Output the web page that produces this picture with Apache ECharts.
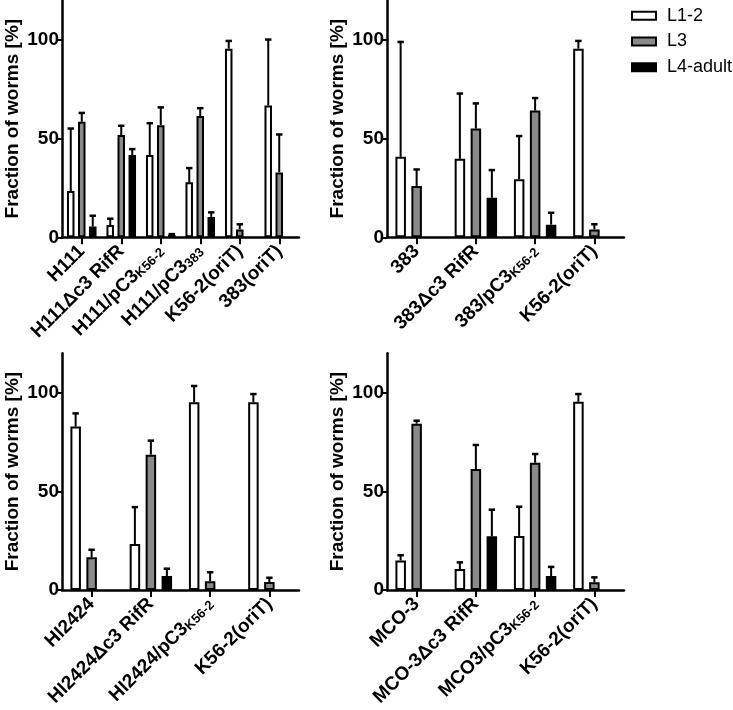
<!DOCTYPE html>
<html><head><meta charset="utf-8">
<script src="https://cdn.jsdelivr.net/npm/echarts@6/dist/echarts.min.js"></script>
<style>html,body{margin:0;padding:0;background:#fff}#c{width:733px;height:710px}</style>
</head><body><div id="c"></div>
<script>
const seriesNames = ['L1-2', 'L3', 'L4-adult'];
const yTicks = [0, 50, 100];

// Panel 1 (top left)
const cats1 = ['H111', 'H111Δc3 RifR', 'H111/pC3_K56-2', 'H111/pC3_383', 'K56-2(oriT)', '383(oriT)'];
const l12_1 = [23.4, 6.2, 41.6, 27.8, 95.4, 66.7];
const l12e_1 = [31.6, 3.2, 16.1, 7.2, 3.9, 33.3];
const l3_1 = [58.4, 51.7, 56.7, 61.3, 4.0, 32.8];
const l3e_1 = [4.5, 4.7, 9.0, 4.0, 2.6, 19.2];
const l4_1 = [5.4, 41.6, 1.2, 10.3, null, null];
const l4e_1 = [5.5, 3.0, 0.4, 2.3, null, null];

// Panel 2 (top right)
const cats2 = ['383', '383Δc3 RifR', '383/pC3_K56-2', 'K56-2(oriT)'];
const l12_2 = [40.7, 39.7, 29.3, 95.4];
const l12e_2 = [58.1, 33.0, 21.9, 3.9];
const l3_2 = [26.0, 55.0, 64.1, 4.0];
const l3e_2 = [8.3, 12.7, 6.3, 2.6];
const l4_2 = [null, 20.0, 6.4, null];
const l4e_2 = [null, 14.0, 6.0, null];

// Panel 3 (bottom left)
const cats3 = ['HI2424', 'HI2424Δc3 RifR', 'HI2424/pC3_K56-2', 'K56-2(oriT)'];
const l12_3 = [82.8, 23.3, 95.1, 95.1];
const l12e_3 = [6.7, 18.7, 8.3, 4.2];
const l3_3 = [16.6, 68.6, 4.4, 4.0];
const l3e_3 = [3.8, 7.1, 4.6, 2.2];
const l4_3 = [null, 7.1, null, null];
const l4e_3 = [null, 3.7, null, null];

// Panel 4 (bottom right)
const cats4 = ['MCO-3', 'MCO-3Δc3 RifR', 'MCO3/pC3_K56-2', 'K56-2(oriT)'];
const l12_4 = [15.0, 10.6, 27.4, 95.4];
const l12e_4 = [2.6, 3.4, 14.8, 3.9];
const l3_4 = [84.3, 61.3, 64.5, 3.9];
const l3e_4 = [1.5, 12.2, 4.4, 2.5];
const l4_4 = [null, 27.2, 7.1, null];
const l4e_4 = [null, 13.5, 4.6, null];

const FONT = 'Liberation Sans, Arial, sans-serif';
const colors = ['#ffffff', '#8a8a8a', '#000000'];

const panels = [
  {cats: cats1, vals: [l12_1, l3_1, l4_1], errs: [l12e_1, l3e_1, l4e_1], grid: {left: 62, top: 0, width: 237, height: 237.3}, bw: 7.5, pitch: 11},
  {cats: cats2, vals: [l12_2, l3_2, l4_2], errs: [l12e_2, l3e_2, l4e_2], grid: {left: 387, top: 0, width: 237, height: 237.3}, bw: 10.5, pitch: 16},
  {cats: cats3, vals: [l12_3, l3_3, l4_3], errs: [l12e_3, l3e_3, l4e_3], grid: {left: 62, top: 353.2, width: 237, height: 236.8}, bw: 10.5, pitch: 16},
  {cats: cats4, vals: [l12_4, l3_4, l4_4], errs: [l12e_4, l3e_4, l4e_4], grid: {left: 387, top: 353.2, width: 237, height: 236.8}, bw: 10.5, pitch: 16}
];

function fmt(v) {
  const i = v.indexOf('_');
  if (i < 0) return '{b|' + v + '}';
  return '{b|' + v.slice(0, i) + '}{s|' + v.slice(i + 1) + '}';
}

const grids = [], xAxes = [], yAxes = [], series = [];
panels.forEach((p, gi) => {
  grids.push(Object.assign({outerBoundsMode: 'none', containLabel: false}, p.grid));
  xAxes.push({
    type: 'category', gridIndex: gi, data: p.cats,
    axisLine: {show: true, lineStyle: {color: '#000', width: 2.5}},
    axisTick: {show: true, alignWithLabel: true, length: 7, lineStyle: {color: '#000', width: 2}},
    axisLabel: {
      rotate: 45, margin: 11, interval: 0, formatter: fmt,
      rich: {
        b: {fontSize: 19, fontWeight: 'bold', fontFamily: FONT, color: '#000'},
        s: {fontSize: 13, fontWeight: 'bold', fontFamily: FONT, color: '#000', verticalAlign: 'bottom'}
      }
    },
    splitLine: {show: false}
  });
  yAxes.push({
    type: 'value', gridIndex: gi, min: 0, max: 120, interval: 50,
    axisLine: {show: true, lineStyle: {color: '#000', width: 2.5}},
    axisTick: {show: true, length: 5, customValues: yTicks, lineStyle: {color: '#000', width: 2}},
    axisLabel: {customValues: yTicks, color: '#000', fontSize: 19, fontWeight: 'bold', fontFamily: FONT, margin: 3},
    splitLine: {show: false},
    name: 'Fraction of worms [%]', nameLocation: 'middle', nameGap: 40,
    nameTextStyle: {color: '#000', fontSize: 19, fontWeight: 'bold', fontFamily: FONT}
  });
  const gapPct = Math.round((p.pitch - p.bw) / p.bw * 100) + '%';
  p.vals.forEach((vals, k) => {
    series.push({
      type: 'bar', name: seriesNames[k], xAxisIndex: gi, yAxisIndex: gi,
      data: vals, barWidth: p.bw, barGap: gapPct, silent: true,
      itemStyle: {color: colors[k], borderColor: '#000', borderWidth: 2}
    });
  });
  p.vals.forEach((vals, k) => {
    const errs = p.errs[k];
    const data = [];
    vals.forEach((v, i) => { if (v != null && errs[i] != null) data.push([i, v, v + errs[i]]); });
    const off = (k - 1) * p.pitch;
    series.push({
      type: 'custom', xAxisIndex: gi, yAxisIndex: gi, z: 5, silent: true,
      encode: {x: 0, y: [1, 2]},
      data: data,
      renderItem: function (params, api) {
        const p0 = api.coord([api.value(0), api.value(1)]);
        const p1 = api.coord([api.value(0), api.value(2)]);
        const x = p0[0] + off;
        return {type: 'group', children: [
          {type: 'line', shape: {x1: x, y1: p0[1], x2: x, y2: p1[1]}, style: {stroke: '#000', lineWidth: 2}},
          {type: 'line', shape: {x1: x - 3.2, y1: p1[1], x2: x + 3.2, y2: p1[1]}, style: {stroke: '#000', lineWidth: 2.5}}
        ]};
      }
    });
  });
});

const chart = echarts.init(document.getElementById('c'), null, {renderer: 'canvas'});
chart.setOption({
  animation: false,
  backgroundColor: '#fff',
  legend: {
    data: seriesNames, orient: 'vertical', left: 631, top: 6.7, padding: 0,
    icon: 'rect', itemWidth: 24, itemHeight: 8, itemGap: 7.8,
    textStyle: {color: '#000', fontSize: 18, fontFamily: FONT, padding: [0, 0, 0, 6]},
    selectedMode: false
  },
  grid: grids, xAxis: xAxes, yAxis: yAxes, series: series
});
</script></body></html>
